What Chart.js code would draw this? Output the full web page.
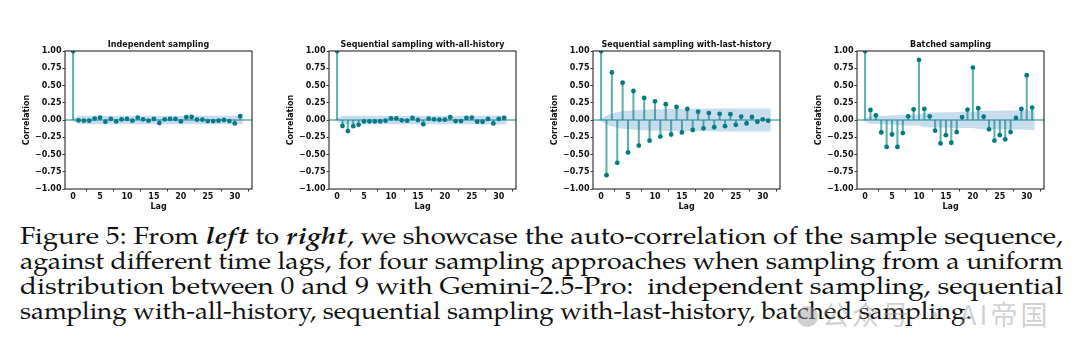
<!DOCTYPE html>
<html>
<head>
<meta charset="utf-8">
<script src="https://cdn.jsdelivr.net/npm/chart.js@4"></script>
<style>
  html, body { margin: 0; padding: 0; background: #fff; }
  #page { position: relative; width: 1080px; height: 353px; overflow: hidden; }
  canvas.acf { position: absolute; top: 35px; }
  #caption { position: absolute; left: 20px; top: 226px; font-family: 'TeX Gyre Pagella', 'Liberation Serif';
             font-size: 24px; line-height: 25px; color: #111; }
  #caption .ln { white-space: nowrap; transform-origin: 0 0; }
  #mark { position: absolute; left: 797px; top: 294px; font-family: 'Noto Sans CJK SC', sans-serif;
          font-size: 27px; letter-spacing: 3px; color: rgba(150,150,150,0.45); white-space: nowrap; }
  #mark .dot { display: inline-block; width: 21px; height: 21px; border-radius: 50%;
               background: rgba(150,150,150,0.45); vertical-align: -2px; margin-right: 4px; }
</style>
</head>
<body>
<div id="page">
  <canvas class="acf" id="c0" width="248" height="178" style="left:10px"></canvas>
  <canvas class="acf" id="c1" width="248" height="178" style="left:274px"></canvas>
  <canvas class="acf" id="c2" width="248" height="178" style="left:538px"></canvas>
  <canvas class="acf" id="c3" width="248" height="178" style="left:802px"></canvas>
  <div id="caption">
    <div class="ln" data-w="1043">Figure 5: From <b><i>left</i></b> to <b><i>right</i></b>, we showcase the auto-correlation of the sample sequence,</div>
    <div class="ln" data-w="1043">against different time lags, for four sampling approaches when sampling from a uniform</div>
    <div class="ln" data-w="1043">distribution between 0 and 9 with Gemini-2.5-Pro: &nbsp;independent sampling, sequential</div>
    <div class="ln" data-w="952">sampling with-all-history, sequential sampling with-last-history, batched sampling.</div>
  </div>
  <div id="mark"><span class="dot"></span>公众号 · AI帝国</div>
</div>
<script>
const lags = [0, 1, 2, 3, 4, 5, 6, 7, 8, 9, 10, 11, 12, 13, 14, 15,
              16, 17, 18, 19, 20, 21, 22, 23, 24, 25, 26, 27, 28, 29, 30, 31];
const xTicks = [0, 5, 10, 15, 20, 25, 30];
const yTicks = [-1, -0.75, -0.5, -0.25, 0, 0.25, 0.5, 0.75, 1];

const titles = ["Independent sampling", "Sequential sampling with-all-history",
                "Sequential sampling with-last-history", "Batched sampling"];

const acfIndependent = [1, -0.005, -0.01, -0.01, 0.02, 0.035, -0.025, 0.015, -0.02, 0.01, 0.015,
  -0.01, 0.035, 0.01, -0.01, 0.015, -0.045, 0.01, 0.015, 0.015, -0.02, 0.04, 0.045,
  0.005, 0.005, -0.015, -0.015, -0.01, 0.0, -0.015, -0.05, 0.055];
const acfAllHistory = [1, -0.087, -0.16, -0.09, -0.07, -0.02, -0.02, -0.02, -0.02, -0.01, 0.025,
  0.025, -0.005, -0.01, 0.03, 0.0, -0.06, 0.02, 0.01, 0.005, 0.005, 0.04, -0.015,
  -0.015, 0.03, 0.035, -0.025, -0.025, 0.015, -0.05, 0.015, 0.03];
const acfLastHistory = [1, -0.8, 0.69, -0.62, 0.54, -0.47, 0.42, -0.37, 0.32, -0.3, 0.27,
  -0.24, 0.23, -0.21, 0.19, -0.18, 0.16, -0.145, 0.12, -0.12, 0.1, -0.105, 0.09,
  -0.09, 0.085, -0.07, 0.05, -0.05, 0.045, -0.025, 0.01, -0.01];
const acfBatched = [1, 0.145, 0.068, -0.18, -0.39, -0.21, -0.39, -0.19, 0.053, 0.155, 0.87,
  0.16, 0.053, -0.155, -0.34, -0.22, -0.33, -0.175, 0.043, 0.15, 0.76, 0.17, 0.048,
  -0.135, -0.3, -0.22, -0.28, -0.175, 0.03, 0.16, 0.65, 0.18];

// half width of the 95% confidence band at each lag
const bandIndependent = [0, 0.062, 0.062, 0.062, 0.062, 0.062, 0.062, 0.062, 0.062, 0.062, 0.062,
  0.062, 0.062, 0.062, 0.062, 0.062, 0.062, 0.063, 0.063, 0.063, 0.063, 0.063, 0.063,
  0.063, 0.063, 0.063, 0.063, 0.063, 0.063, 0.063, 0.063, 0.063];
const bandAllHistory = [0, 0.06, 0.061, 0.062, 0.063, 0.063, 0.063, 0.063, 0.063, 0.063, 0.063,
  0.063, 0.063, 0.063, 0.063, 0.063, 0.063, 0.063, 0.063, 0.063, 0.063, 0.063, 0.063,
  0.063, 0.063, 0.063, 0.063, 0.064, 0.064, 0.064, 0.064, 0.064];
const bandLastHistory = [0, 0.063, 0.095, 0.113, 0.126, 0.135, 0.141, 0.146, 0.15, 0.152, 0.155,
  0.157, 0.158, 0.159, 0.16, 0.161, 0.162, 0.163, 0.163, 0.164, 0.164, 0.164, 0.165,
  0.165, 0.165, 0.165, 0.165, 0.165, 0.166, 0.166, 0.166, 0.166];
const bandBatched = [0, 0.058, 0.059, 0.059, 0.061, 0.068, 0.07, 0.077, 0.078, 0.078, 0.079,
  0.106, 0.107, 0.107, 0.107, 0.111, 0.112, 0.115, 0.116, 0.116, 0.117, 0.132, 0.133,
  0.133, 0.134, 0.136, 0.137, 0.139, 0.139, 0.139, 0.14, 0.149];

const TEAL = "#007c7c";
const STEM = "rgba(0,128,128,0.62)";
const FRAME = "#3a3a3a";

Chart.defaults.font.family = "'DejaVu Sans', sans-serif";
Chart.defaults.font.size = 8;
Chart.defaults.font.weight = "bold";
Chart.defaults.color = "#111";

const framePlugin = {
  id: "frame",
  beforeDatasetsDraw(chart) {
    const {ctx, chartArea: a, scales: {y}} = chart;
    const y0 = y.getPixelForValue(0);
    ctx.save();
    ctx.strokeStyle = STEM;
    ctx.lineWidth = 1.3;
    ctx.beginPath();
    ctx.moveTo(a.left, y0);
    ctx.lineTo(a.right, y0);
    ctx.stroke();
    ctx.restore();
  },
  afterDraw(chart) {
    const {ctx, chartArea: a} = chart;
    ctx.save();
    ctx.strokeStyle = FRAME;
    ctx.lineWidth = 1.2;
    ctx.strokeRect(a.left, a.top, a.right - a.left, a.bottom - a.top);
    ctx.fillStyle = "#111";
    ctx.font = "bold 8px 'DejaVu Sans'";
    ctx.textAlign = "center";
    ctx.textBaseline = "middle";
    ctx.fillText(chart.options.plugins.frame.title, (a.left + a.right) / 2, a.top - 6);
    ctx.restore();
  }
};

function fmtY(v) {
  const s = Math.abs(v).toFixed(2);
  return v < 0 ? "\u2212" + s : s;
}

function makePanel(id, title, acf, band) {
  const pts = lags.map((l, i) => ({x: l, y: acf[i]}));
  const bandX = lags.map((l, i) => i === 0 ? l - 0.5 : (i === lags.length - 1 ? l + 0.5 : l));
  const upper = bandX.map((x, i) => ({x, y: band[i]}));
  const lower = bandX.map((x, i) => ({x, y: -band[i]}));

  new Chart(document.getElementById(id), {
    type: "scatter",
    data: {
      datasets: [
        {type: "line", data: upper, fill: "+1", backgroundColor: "rgba(31,119,180,0.25)",
         borderWidth: 0, pointRadius: 0, tension: 0},
        {type: "line", data: lower, fill: false, borderWidth: 0, pointRadius: 0, tension: 0},
        {type: "scatter", data: pts, pointRadius: 2.4, pointBackgroundColor: TEAL,
         pointBorderWidth: 0, showLine: false},
        {type: "bar", data: pts, backgroundColor: STEM, barThickness: 1.4, borderWidth: 0}
      ]
    },
    options: {
      responsive: false,
      animation: false,
      events: [],
      layout: {padding: {top: 16, right: 6, left: 0, bottom: 0}},
      plugins: {legend: {display: false}, tooltip: {enabled: false}, frame: {title}},
      scales: {
        x: {
          type: "linear", min: -1.5, max: 33.2, offset: false,
          afterBuildTicks: s => { s.ticks = xTicks.map(v => ({value: v})); },
          afterFit: s => { s.height = 24; },
          grid: {drawOnChartArea: false, drawTicks: true, tickLength: 2.5, color: FRAME, lineWidth: 1},
          border: {display: false},
          ticks: {padding: 1, maxRotation: 0, autoSkip: false},
          title: {display: true, text: "Lag", padding: {top: 0, bottom: 1}}
        },
        y: {
          type: "linear", min: -1, max: 1,
          afterBuildTicks: s => { s.ticks = yTicks.map(v => ({value: v})); },
          afterFit: s => { s.width = 55; },
          grid: {drawOnChartArea: false, drawTicks: true, tickLength: 2.5, color: FRAME, lineWidth: 1},
          border: {display: false},
          ticks: {padding: 1, callback: v => fmtY(v), autoSkip: false},
          title: {display: true, text: "Correlation", padding: {top: 12, bottom: 0}}
        }
      }
    },
    plugins: [framePlugin]
  });
}

makePanel("c0", titles[0], acfIndependent, bandIndependent);
makePanel("c1", titles[1], acfAllHistory, bandAllHistory);
makePanel("c2", titles[2], acfLastHistory, bandLastHistory);
makePanel("c3", titles[3], acfBatched, bandBatched);

// stretch each caption line to the width it has in the figure
document.querySelectorAll("#caption .ln").forEach(el => {
  el.style.display = "inline-block";
  const natural = el.getBoundingClientRect().width;
  el.style.transform = "scaleX(" + (Number(el.dataset.w) / natural) + ")";
  el.style.display = "block";
  el.style.width = natural + "px";
});
</script>
</body>
</html>
